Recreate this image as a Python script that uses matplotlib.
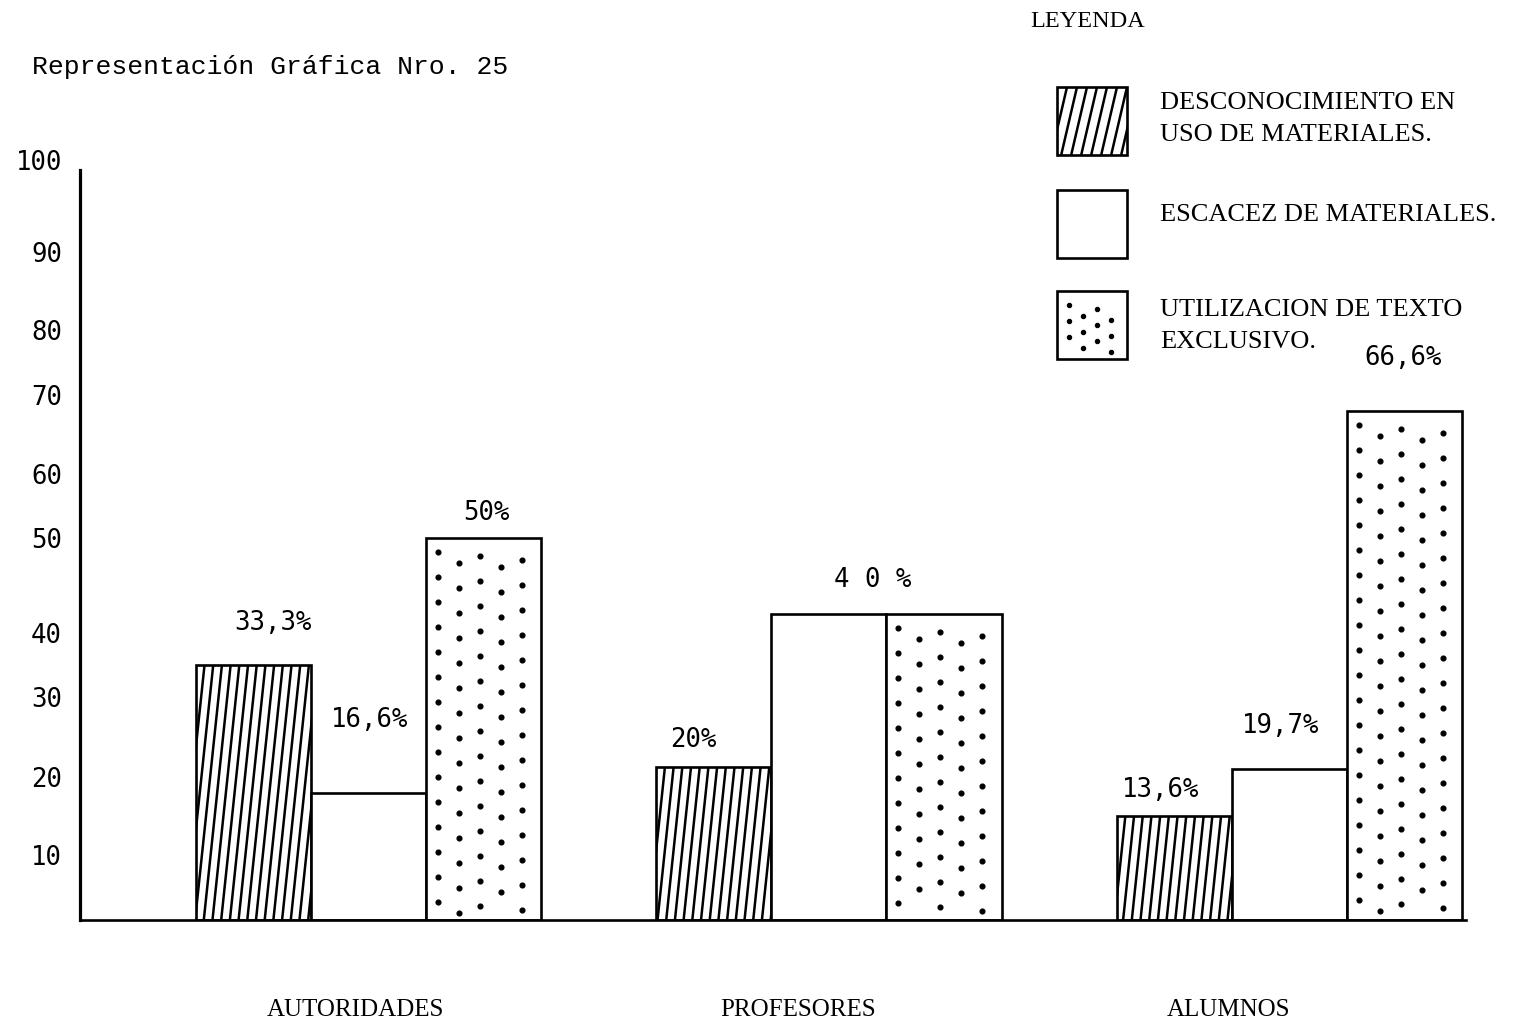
import numpy as np
import matplotlib
matplotlib.use("Agg")
import matplotlib.pyplot as plt
from matplotlib.patches import Rectangle
from matplotlib.collections import LineCollection
from matplotlib.lines import Line2D
from matplotlib.transforms import IdentityTransform

# ---- data -------------------------------------------------------------
groups = ["AUTORIDADES", "PROFESORES", "ALUMNOS"]
series_names = ["DESCONOCIMIENTO EN\nUSO DE MATERIALES.",
                "ESCACEZ DE MATERIALES.",
                "UTILIZACION DE TEXTO\nEXCLUSIVO."]
desconocimiento = [33.3, 20.0, 13.6]
escasez = [16.6, 40.0, 19.7]
texto_exclusivo = [50.0, 40.0, 66.6]
y_tick_labels = ["10", "20", "30", "40", "50", "60", "70", "80", "90", "100"]

# ---- layout -----------------------------------------------------------
W, H, DPI = 1518, 1026, 100
# hand-lettered scale: where each tick number sits along the axis
y_label_pos = [8.1, 18.3, 28.8, 37.1, 49.5, 57.9, 68.2, 76.7, 86.9, 98.9]
group_x = np.array([0.0, 4.0, 8.0])
bar_w = 1.0
# value-label offsets (pixels) from the top centre of each bar
label_off = {(0, 0): (20, 42), (1, 0): (1, 73), (2, 0): (3, 24),
             (0, 1): (-20, 27), (0, 2): (-14, 26),
             (1, 2): (-9, 43), (2, 2): (-1, 53)}
cat_off = [-13, -31, -61]

MONO = "DejaVu Sans Mono"
SERIF = "Liberation Serif"

fig = plt.figure(figsize=(W / DPI, H / DPI), dpi=DPI)
fig.patch.set_facecolor("white")


def fx(x):
    return x / W


def fy(y):
    return 1 - y / H


ax = fig.add_axes([fx(80), fy(920), (1466 - 80) / W, 765 / H])
ax.set_xlim(-2.506, 9.535)
ax.set_ylim(0, 100)
ax.set_autoscale_on(False)
ax.set_xticks([])
ax.set_yticks([])
for s in ("top", "right"):
    ax.spines[s].set_visible(False)
ax.spines["left"].set_linewidth(2.3)
ax.spines["left"].set_bounds(0, 98)
ax.spines["bottom"].set_linewidth(1.9)
ax.patch.set_alpha(0)

series = [desconocimiento, escasez, texto_exclusivo]
bars = []
for i, vals in enumerate(series):
    bc = ax.bar(group_x + (i - 1) * bar_w, vals, width=bar_w,
                facecolor="white", edgecolor="black", linewidth=1.9,
                zorder=2)
    bars.append(list(bc))


def clip_to(artist, patch):
    # clip to the rectangle's own outline (as a path, not a bbox)
    artist.set_clip_path(patch.get_path(), patch.get_transform())


def hatch_lines(patch, bbox, spacing, steep, lw, target):
    x0, y0, x1, y1 = bbox.x0, bbox.y0, bbox.x1, bbox.y1
    run = (y1 - y0) / steep
    segs = []
    xb = x0 - run
    while xb < x1 + spacing:
        segs.append([(xb, y0), (xb + run, y1)])
        xb += spacing
    lc = LineCollection(segs, colors="black", linewidths=lw,
                        transform=IdentityTransform(), zorder=3)
    target(lc)
    clip_to(lc, patch)


def dot_fill(patch, bbox, dx, dy, ms, target):
    x0, y0, x1, y1 = bbox.x0, bbox.y0, bbox.x1, bbox.y1
    shifts = [0, 11, 4, 15, 8, 2]
    xs, ys = [], []
    cx = x0 + 12
    k = 0
    while cx < x1 - 6:
        cy = y1 - 14 - shifts[k % len(shifts)]
        while cy > y0 + 6:
            xs.append(cx)
            ys.append(cy)
            cy -= dy
        cx += dx
        k += 1
    ln = Line2D(xs, ys, linestyle="none", marker="o", markersize=ms,
                color="black", transform=IdentityTransform(), zorder=3)
    target(ln)
    clip_to(ln, patch)


for p in bars[0]:
    hatch_lines(p, p.get_window_extent(), 8.7, 9.5, 1.8,
                lambda a: ax.add_collection(a, autolim=False))
for p in bars[2]:
    dot_fill(p, p.get_window_extent(), 21, 25, 3.4, ax.add_line)


# value labels
def fmt(v):
    if float(v).is_integer():
        return f"{int(v)}%"
    return f"{v:.1f}".replace(".", ",") + "%"


for i, vals in enumerate(series):
    for j, v in enumerate(vals):
        if (i, j) not in label_off:
            continue
        dx, dy = label_off[(i, j)]
        ax.annotate(fmt(v), xy=(group_x[j] + (i - 1) * bar_w, v),
                    xytext=(dx, dy), textcoords="offset pixels",
                    ha="center", va="center", fontsize=18.5,
                    family=MONO, color="black", annotation_clip=False)

# shared label over the two equal PROFESORES bars
ax.annotate(" ".join(fmt(escasez[1])), xy=(group_x[1] + 0.5, escasez[1]),
            xytext=(-14, 34), textcoords="offset pixels",
            ha="center", va="center", fontsize=18.5, family=MONO,
            annotation_clip=False)

# y scale numbers
for lab, pos in zip(y_tick_labels, y_label_pos):
    ax.annotate(lab, xy=(0, pos), xycoords=("axes fraction", "data"),
                xytext=(-18, 0), textcoords="offset pixels",
                ha="right", va="center", fontsize=18.5, family=MONO,
                annotation_clip=False)

# category names
for g, x, off in zip(groups, group_x, cat_off):
    ax.annotate(g, xy=(x, 0), xytext=(off, -90), textcoords="offset pixels",
                ha="center", va="center", fontsize=18, family=SERIF,
                annotation_clip=False)

# title
fig.text(fx(32), fy(67), "Representación Gráfica Nro. 25", fontsize=19,
         family="Liberation Mono", ha="left", va="center")

# legend
fig.text(fx(1030), fy(22), "LEYENDA", fontsize=17.5, family=SERIF,
         ha="left", va="center")
box_tops = [87, 190, 291]
box_w, box_h = 70, 68
for k, (name, top) in enumerate(zip(series_names, box_tops)):
    rect = Rectangle((1057, H - top - box_h), box_w, box_h,
                     transform=IdentityTransform(), facecolor="white",
                     edgecolor="black", linewidth=1.9, zorder=2)
    fig.add_artist(rect)
    bb = rect.get_window_extent()
    if k == 0:
        hatch_lines(rect, bb, 10, 4.3, 1.8, fig.add_artist)
    elif k == 2:
        dot_fill(rect, bb, 14, 16, 2.9, fig.add_artist)
    lines = name.split("\n")
    for n, ln in enumerate(lines):
        yc = (103 + 32 * n) if k == 0 else (215 if k == 1 else 310 + 32 * n)
        fig.text(fx(1160), fy(yc), ln, fontsize=19, family=SERIF,
                 ha="left", va="center")

fig.savefig("out.png", dpi=DPI, facecolor="white")
